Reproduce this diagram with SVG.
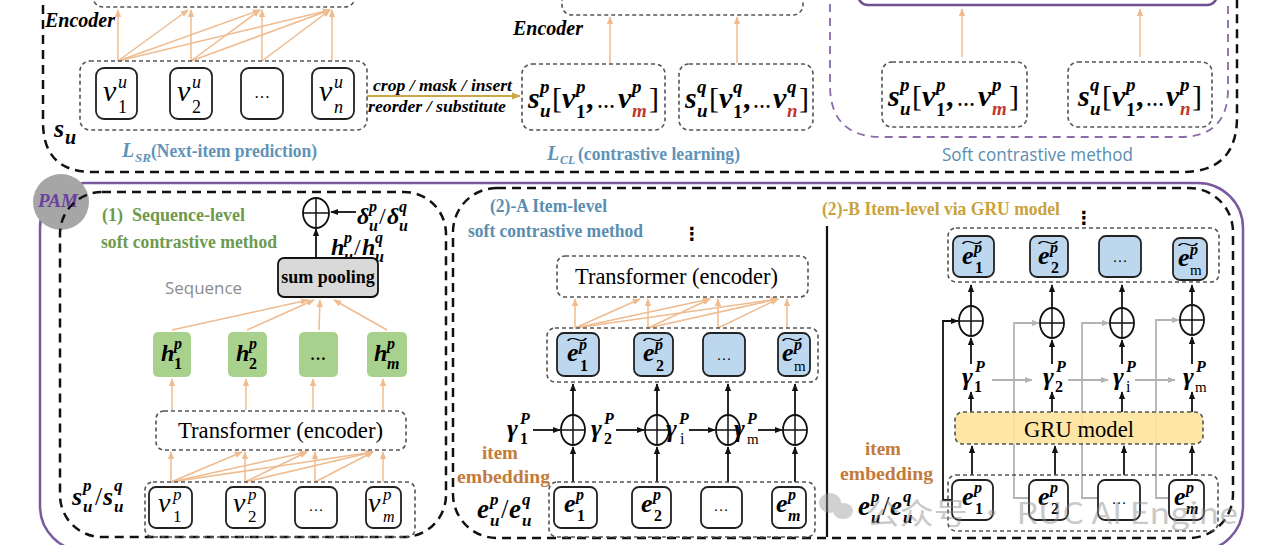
<svg xmlns="http://www.w3.org/2000/svg" width="1280" height="545" viewBox="0 0 1280 545">
<style>
.tan{stroke:#efbb8f;stroke-width:1.5;fill:none;marker-end:url(#at)}
.blk{stroke:#111;stroke-width:1.8;fill:none;marker-end:url(#ak)}
.gra{stroke:#b3b3b3;stroke-width:1.8;fill:none;marker-end:url(#ag)}
.dbox{fill:none;stroke:#555;stroke-width:1.6;stroke-dasharray:4 3}
.item{fill:#fff;stroke:#222;stroke-width:1.8}
.ebl{fill:#bdd7ee;stroke:#222;stroke-width:1.8}
.hg{fill:#a9d18e}
.big{fill:none;stroke:#111;stroke-width:2.5;stroke-dasharray:9 6}
.op{fill:#fff;stroke:#111;stroke-width:1.8}
.opl{stroke:#111;stroke-width:1.5;fill:none}
.mi{font-family:"Liberation Serif","DejaVu Serif",serif;font-style:italic}
.mb{font-family:"Liberation Serif","DejaVu Serif",serif;font-style:italic;font-weight:bold}
.rb{font-family:"Liberation Serif","DejaVu Serif",serif;font-weight:bold}
.rr{font-family:"Liberation Serif","DejaVu Serif",serif}
.up{font-style:normal}
.red{fill:#c0392b}
.blue{fill:#5f93b8}
.sans{font-family:"Open Sans","Liberation Sans",sans-serif}
</style>
<defs>
<marker id="at" viewBox="0 0 10 10" refX="9" refY="5" markerWidth="8" markerHeight="8" orient="auto" markerUnits="userSpaceOnUse"><path d="M0,1 L10,5 L0,9 z" fill="#efbb8f"/></marker>
<marker id="ak" viewBox="0 0 10 10" refX="9" refY="5" markerWidth="8" markerHeight="8" orient="auto" markerUnits="userSpaceOnUse"><path d="M0,1 L10,5 L0,9 z" fill="#111"/></marker>
<marker id="ag" viewBox="0 0 10 10" refX="9" refY="5" markerWidth="8" markerHeight="8" orient="auto" markerUnits="userSpaceOnUse"><path d="M0,1 L10,5 L0,9 z" fill="#b3b3b3"/></marker>
<marker id="ay" viewBox="0 0 10 10" refX="9" refY="5" markerWidth="9" markerHeight="9" orient="auto" markerUnits="userSpaceOnUse"><path d="M0,1 L10,5 L0,9 z" fill="#c9a84a"/></marker>
</defs>
<rect width="1280" height="545" fill="#fff"/>

<g id="frames">
<path class="big" d="M43,-10 V122 Q43,172 93,172 H1182 Q1237,172 1237,117 V-10"/>
<path d="M830,-10 V85 Q830,137 882,137 H1180 Q1228,137 1228,89 V-10" fill="none" stroke="#8a6aa8" stroke-width="1.8" stroke-dasharray="8 6"/>
<rect x="858" y="-40" width="359" height="45" rx="10" fill="none" stroke="#6e4f8f" stroke-width="2.5"/>
<rect x="93" y="-30" width="262" height="37" rx="10" class="dbox"/>
<rect x="562" y="-30" width="241" height="45" rx="10" class="dbox"/>
<rect x="40" y="183" width="1203" height="368" rx="45" fill="none" stroke="#7a5a9e" stroke-width="2.5"/>
<rect x="453" y="188" width="780" height="350" rx="44" class="big"/>
<line x1="827" y1="226" x2="827" y2="537" stroke="#111" stroke-width="2.2"/>
</g>

<g id="connectors">
<line class="tan" x1="118" y1="61" x2="118" y2="10"/>
<line class="tan" x1="191" y1="61" x2="191" y2="10"/>
<line class="tan" x1="262" y1="61" x2="262" y2="10"/>
<line class="tan" x1="332" y1="61" x2="332" y2="10"/>
<line class="tan" x1="118" y1="61" x2="188" y2="10"/>
<line class="tan" x1="118" y1="61" x2="260" y2="10"/>
<line class="tan" x1="118" y1="61" x2="330" y2="10"/>
<line class="tan" x1="191" y1="61" x2="260" y2="10"/>
<line class="tan" x1="191" y1="61" x2="330" y2="10"/>
<line class="tan" x1="262" y1="61" x2="330" y2="10"/>
<line x1="367" y1="96" x2="520" y2="96" stroke="#c9a84a" stroke-width="2.2" marker-end="url(#ay)"/>
<line class="tan" x1="610" y1="63" x2="610" y2="17"/>
<line class="tan" x1="737" y1="63" x2="737" y2="17"/>
<line class="tan" x1="962" y1="57" x2="962" y2="9"/>
<line class="tan" x1="1140" y1="57" x2="1140" y2="9"/>
<line class="tan" x1="171" y1="482" x2="171" y2="452"/>
<line class="tan" x1="245" y1="482" x2="245" y2="452"/>
<line class="tan" x1="315" y1="482" x2="315" y2="452"/>
<line class="tan" x1="383" y1="482" x2="383" y2="452"/>
<line class="tan" x1="171" y1="482" x2="242" y2="452"/>
<line class="tan" x1="171" y1="482" x2="307" y2="452"/>
<line class="tan" x1="171" y1="482" x2="373" y2="452"/>
<line class="tan" x1="245" y1="482" x2="307" y2="452"/>
<line class="tan" x1="245" y1="482" x2="373" y2="452"/>
<line class="tan" x1="315" y1="482" x2="373" y2="452"/>
<line class="tan" x1="172" y1="410" x2="172" y2="379"/>
<line class="tan" x1="246" y1="410" x2="246" y2="379"/>
<line class="tan" x1="313" y1="410" x2="313" y2="379"/>
<line class="tan" x1="383" y1="410" x2="383" y2="379"/>
<line class="tan" x1="172" y1="330" x2="308" y2="300"/>
<line class="tan" x1="247" y1="330" x2="314" y2="300"/>
<line class="tan" x1="319" y1="330" x2="320" y2="300"/>
<line class="tan" x1="387" y1="330" x2="334" y2="300"/>
<line class="blk" x1="316" y1="258" x2="316" y2="229"/>
<line class="blk" x1="356" y1="212" x2="331" y2="212"/>
<line class="tan" x1="575" y1="328" x2="575" y2="299"/>
<line class="tan" x1="648" y1="328" x2="648" y2="299"/>
<line class="tan" x1="718" y1="328" x2="718" y2="299"/>
<line class="tan" x1="787" y1="328" x2="787" y2="299"/>
<line class="tan" x1="575" y1="328" x2="640" y2="299"/>
<line class="tan" x1="575" y1="328" x2="710" y2="299"/>
<line class="tan" x1="575" y1="328" x2="778" y2="299"/>
<line class="tan" x1="648" y1="328" x2="710" y2="299"/>
<line class="tan" x1="648" y1="328" x2="778" y2="299"/>
<line class="tan" x1="718" y1="328" x2="778" y2="299"/>
<line class="blk" x1="573" y1="415" x2="573" y2="384"/>
<line class="blk" x1="657" y1="415" x2="657" y2="384"/>
<line class="blk" x1="728" y1="415" x2="728" y2="384"/>
<line class="blk" x1="795" y1="415" x2="795" y2="384"/>
<line class="blk" x1="573" y1="482" x2="573" y2="447"/>
<line class="blk" x1="657" y1="482" x2="657" y2="447"/>
<line class="blk" x1="728" y1="482" x2="728" y2="447"/>
<line class="blk" x1="795" y1="482" x2="795" y2="447"/>
<line class="blk" x1="533" y1="430" x2="560" y2="430"/>
<line class="blk" x1="616" y1="430" x2="644" y2="430"/>
<line class="blk" x1="689" y1="430" x2="715" y2="430"/>
<line class="blk" x1="758" y1="430" x2="782" y2="430"/>
<polyline class="gra" points="1029,498 1014,498 1014,323 1039,323"/>
<polyline class="gra" points="1098,498 1082,498 1082,323 1109,323"/>
<polyline class="gra" points="1169,498 1156,498 1156,320 1179,320"/>
<line class="gra" x1="992" y1="380" x2="1032" y2="380"/>
<line class="gra" x1="1068" y1="380" x2="1108" y2="380"/>
<line class="gra" x1="1135" y1="380" x2="1175" y2="380"/>
<polyline class="blk" points="952,500 943,500 943,321 958,321"/>
<line class="blk" x1="971" y1="306" x2="971" y2="285"/>
<line class="blk" x1="1052" y1="308" x2="1052" y2="285"/>
<line class="blk" x1="1122" y1="308" x2="1122" y2="285"/>
<line class="blk" x1="1192" y1="305" x2="1192" y2="285"/>
<line class="blk" x1="971" y1="364" x2="971" y2="338"/>
<line class="blk" x1="1052" y1="364" x2="1052" y2="340"/>
<line class="blk" x1="1122" y1="364" x2="1122" y2="340"/>
<line class="blk" x1="1192" y1="364" x2="1192" y2="337"/>
<line class="blk" x1="971" y1="412" x2="971" y2="392"/>
<line class="blk" x1="1052" y1="412" x2="1052" y2="392"/>
<line class="blk" x1="1122" y1="412" x2="1122" y2="392"/>
<line class="blk" x1="1192" y1="412" x2="1192" y2="392"/>
<line class="blk" x1="972" y1="475" x2="972" y2="446"/>
<line class="blk" x1="1055" y1="475" x2="1055" y2="446"/>
<line class="blk" x1="1124" y1="475" x2="1124" y2="446"/>
<line class="blk" x1="1192" y1="475" x2="1192" y2="446"/>
</g>

<text class="mb" x="45" y="27" font-size="20">Encoder</text>
<text class="mb" x="513" y="35" font-size="20">Encoder</text>
<g id="su-label"><text class="mb" font-size="26"><tspan x="54" y="137">s</tspan><tspan x="65" y="144" font-size="20">u</tspan></text></g>

<g id="seq-u">
<rect x="80" y="61" width="287" height="69" rx="10" class="dbox"/>
<rect x="96" y="68" width="41" height="51" rx="8" class="item"/>
<rect x="170" y="68" width="42" height="51" rx="8" class="item"/>
<rect x="241" y="68" width="42" height="51" rx="8" class="item"/>
<rect x="312" y="68" width="42" height="51" rx="8" class="item"/>
<text class="mi" font-size="30"><tspan x="103" y="101">v</tspan><tspan x="118" y="88" font-size="18">u</tspan><tspan x="118" y="113" font-size="18" class="up">1</tspan></text>
<text class="mi" font-size="30"><tspan x="177" y="101">v</tspan><tspan x="192" y="88" font-size="18">u</tspan><tspan x="192" y="113" font-size="18" class="up">2</tspan></text>
<text class="rr" x="262" y="98" font-size="16" text-anchor="middle">…</text>
<text class="mi" font-size="30"><tspan x="319" y="101">v</tspan><tspan x="334" y="88" font-size="18">u</tspan><tspan x="334" y="113" font-size="18">n</tspan></text>
</g>
<text class="mb" x="373" y="91" font-size="17" textLength="139" lengthAdjust="spacingAndGlyphs">crop / mask / insert</text>
<text class="mb" x="368" y="112" font-size="17" textLength="138" lengthAdjust="spacingAndGlyphs">reorder / substitute</text>
<g id="lsr">
<text class="mb blue" x="122" y="157" font-size="20">L</text>
<text class="mb blue" x="135" y="162" font-size="13">SR</text>
<text class="rb blue" x="151" y="157" font-size="19" textLength="166" lengthAdjust="spacingAndGlyphs">(Next-item prediction)</text>
</g>

<g id="seq-p-cl">
<rect x="522" y="64" width="143" height="66" rx="10" class="dbox"/>
<text class="mb" font-size="30"><tspan x="528" y="108">s</tspan><tspan x="540" y="93" font-size="19">p</tspan><tspan x="540" y="117" font-size="19">u</tspan><tspan x="552" y="108" font-weight="normal" class="up">[</tspan><tspan x="562" y="108">v</tspan><tspan x="576" y="93" font-size="19">p</tspan><tspan x="576" y="118" font-size="19" class="up">1</tspan><tspan x="586" y="108" class="up">,</tspan><tspan x="597" y="108" font-size="18" class="up">…</tspan><tspan x="618" y="108">v</tspan><tspan x="632" y="93" font-size="19">p</tspan><tspan x="632" y="117" font-size="19" class="red">m</tspan><tspan x="649" y="108" font-weight="normal" class="up">]</tspan></text>
</g>
<g id="seq-q-cl">
<rect x="679" y="64" width="134" height="66" rx="10" class="dbox"/>
<text class="mb" font-size="30"><tspan x="685" y="108">s</tspan><tspan x="697" y="93" font-size="19">q</tspan><tspan x="697" y="117" font-size="19">u</tspan><tspan x="709" y="108" font-weight="normal" class="up">[</tspan><tspan x="719" y="108">v</tspan><tspan x="733" y="93" font-size="19">q</tspan><tspan x="733" y="118" font-size="19" class="up">1</tspan><tspan x="743" y="108" class="up">,</tspan><tspan x="753" y="108" font-size="18" class="up">…</tspan><tspan x="773" y="108">v</tspan><tspan x="787" y="93" font-size="19">q</tspan><tspan x="787" y="117" font-size="19" class="red">n</tspan><tspan x="799" y="108" font-weight="normal" class="up">]</tspan></text>
</g>
<g id="lcl">
<text class="mb blue" x="547" y="160" font-size="20">L</text>
<text class="mb blue" x="560" y="164" font-size="12">CL</text>
<text class="rb blue" x="578" y="160" font-size="19" textLength="162" lengthAdjust="spacingAndGlyphs">(contrastive learning)</text>
</g>

<g id="seq-p-soft">
<rect x="882" y="62" width="145" height="65" rx="10" class="dbox"/>
<text class="mb" font-size="30"><tspan x="888" y="106">s</tspan><tspan x="900" y="91" font-size="19">p</tspan><tspan x="900" y="115" font-size="19">u</tspan><tspan x="912" y="106" font-weight="normal" class="up">[</tspan><tspan x="922" y="106">v</tspan><tspan x="936" y="91" font-size="19">p</tspan><tspan x="936" y="116" font-size="19" class="up">1</tspan><tspan x="946" y="106" class="up">,</tspan><tspan x="957" y="106" font-size="18" class="up">…</tspan><tspan x="978" y="106">v</tspan><tspan x="992" y="91" font-size="19">p</tspan><tspan x="992" y="115" font-size="19" class="red">m</tspan><tspan x="1009" y="106" font-weight="normal" class="up">]</tspan></text>
</g>
<g id="seq-q-soft">
<rect x="1068" y="62" width="144" height="65" rx="10" class="dbox"/>
<text class="mb" font-size="30"><tspan x="1078" y="106">s</tspan><tspan x="1090" y="91" font-size="19">q</tspan><tspan x="1090" y="115" font-size="19">u</tspan><tspan x="1102" y="106" font-weight="normal" class="up">[</tspan><tspan x="1112" y="106">v</tspan><tspan x="1126" y="91" font-size="19">p</tspan><tspan x="1126" y="116" font-size="19" class="up">1</tspan><tspan x="1136" y="106" class="up">,</tspan><tspan x="1146" y="106" font-size="18" class="up">…</tspan><tspan x="1166" y="106">v</tspan><tspan x="1180" y="91" font-size="19">p</tspan><tspan x="1180" y="115" font-size="19" class="red">n</tspan><tspan x="1192" y="106" font-weight="normal" class="up">]</tspan></text>
</g>
<text class="sans" x="942" y="161" font-size="18" fill="#5b8db0" textLength="191" lengthAdjust="spacingAndGlyphs">Soft contrastive method</text>

<g id="pam">
<circle cx="61" cy="202" r="28" fill="#a6a6a6"/>
<text class="mb" x="58" y="207" font-size="19" fill="#6b3fa0" text-anchor="middle">PAM</text>
</g>
<rect x="60" y="192" width="386" height="345" rx="42" class="big"/>

<text class="rb" x="102" y="221" font-size="18" fill="#6e9a4e" style="white-space:pre">(1)  Sequence-level</text>
<text class="rb" x="101" y="248" font-size="18" fill="#6e9a4e" textLength="176" lengthAdjust="spacingAndGlyphs">soft contrastive method</text>
<g id="op-seq">
<ellipse cx="316" cy="213" rx="13" ry="15" class="op"/>
<path class="opl" d="M303,213 H329 M316,198 V228"/>
</g>
<text class="mb" font-size="24"><tspan x="357" y="224">δ</tspan><tspan x="369" y="212" font-size="16">p</tspan><tspan x="369" y="231" font-size="16">u</tspan><tspan x="379" y="224" class="up" font-weight="normal">/</tspan><tspan x="387" y="224">δ</tspan><tspan x="399" y="212" font-size="16">q</tspan><tspan x="399" y="231" font-size="16">u</tspan></text>
<text class="mb" font-size="24"><tspan x="331" y="255">h</tspan><tspan x="344" y="243" font-size="16">p</tspan><tspan x="344" y="262" font-size="16">u</tspan><tspan x="354" y="255" class="up" font-weight="normal">/</tspan><tspan x="362" y="255">h</tspan><tspan x="375" y="243" font-size="16">q</tspan><tspan x="375" y="262" font-size="16">u</tspan></text>
<g id="sumpool">
<rect x="278" y="258" width="100" height="39" rx="6" fill="#d9d9d9" stroke="#111" stroke-width="1.8"/>
<text class="rb" x="328" y="283" font-size="18" text-anchor="middle">sum pooling</text>
</g>
<text class="sans" x="165" y="294" font-size="17" fill="#8c8c8c" textLength="77" lengthAdjust="spacingAndGlyphs">Sequence</text>
<g id="h-row">
<rect x="153" y="332" width="38" height="45" rx="5" class="hg"/>
<rect x="228" y="332" width="39" height="45" rx="5" class="hg"/>
<rect x="299" y="332" width="39" height="45" rx="5" class="hg"/>
<rect x="367" y="332" width="40" height="45" rx="5" class="hg"/>
<text class="mb" font-size="24"><tspan x="161" y="361">h</tspan><tspan x="174" y="349" font-size="16">p</tspan><tspan x="174" y="369" font-size="16" class="up">1</tspan></text>
<text class="mb" font-size="24"><tspan x="236" y="361">h</tspan><tspan x="249" y="349" font-size="16">p</tspan><tspan x="249" y="369" font-size="16" class="up">2</tspan></text>
<text class="rb" x="318" y="360" font-size="16" text-anchor="middle">…</text>
<text class="mb" font-size="24"><tspan x="374" y="361">h</tspan><tspan x="387" y="349" font-size="16">p</tspan><tspan x="387" y="369" font-size="16">m</tspan></text>
</g>
<g id="trans1">
<rect x="156" y="411" width="250" height="39" rx="8" class="dbox"/>
<text class="rr" x="178" y="438" font-size="22.5" textLength="205" lengthAdjust="spacingAndGlyphs">Transformer (encoder)</text>
</g>
<g id="v-row">
<rect x="145" y="482" width="270" height="55" rx="8" class="dbox"/>
<rect x="149" y="487" width="43" height="41" rx="7" class="item"/>
<rect x="226" y="487" width="39" height="41" rx="7" class="item"/>
<rect x="295" y="487" width="42" height="41" rx="7" class="item"/>
<rect x="366" y="487" width="35" height="41" rx="7" class="item"/>
<text class="mi" font-size="28"><tspan x="158" y="512">v</tspan><tspan x="173" y="500" font-size="17">p</tspan><tspan x="173" y="522" font-size="17" class="up">1</tspan></text>
<text class="mi" font-size="28"><tspan x="233" y="512">v</tspan><tspan x="248" y="500" font-size="17">p</tspan><tspan x="248" y="522" font-size="17" class="up">2</tspan></text>
<text class="rr" x="316" y="511" font-size="15" text-anchor="middle">…</text>
<text class="mi" font-size="28"><tspan x="368" y="512">v</tspan><tspan x="383" y="500" font-size="17">p</tspan><tspan x="383" y="522" font-size="16">m</tspan></text>
</g>
<text class="mb" font-size="26"><tspan x="72" y="505">s</tspan><tspan x="83" y="491" font-size="17">p</tspan><tspan x="83" y="512" font-size="17">u</tspan><tspan x="95" y="505" class="up" font-weight="normal">/</tspan><tspan x="103" y="505">s</tspan><tspan x="114" y="491" font-size="17">q</tspan><tspan x="114" y="512" font-size="17">u</tspan></text>

<text class="rb" x="490" y="212" font-size="18" fill="#5b8db0" textLength="117" lengthAdjust="spacingAndGlyphs">(2)-A Item-level</text>
<text class="rb" x="468" y="237" font-size="18" fill="#5b8db0" textLength="175" lengthAdjust="spacingAndGlyphs">soft contrastive method</text>
<text x="692" y="240" font-family="DejaVu Sans" font-weight="bold" font-size="18" text-anchor="middle">⋮</text>
<g id="trans2">
<rect x="557" y="256" width="251" height="41" rx="8" class="dbox"/>
<text class="rr" x="575" y="284" font-size="22.5" textLength="203" lengthAdjust="spacingAndGlyphs">Transformer (encoder)</text>
</g>
<g id="et-row-a">
<rect x="547" y="328" width="271" height="54" rx="8" class="dbox"/>
<rect x="557" y="333" width="42" height="43" rx="7" class="ebl"/>
<rect x="634" y="333" width="39" height="43" rx="7" class="ebl"/>
<rect x="703" y="333" width="42" height="43" rx="7" class="ebl"/>
<rect x="778" y="333" width="32" height="43" rx="7" class="ebl"/>
<text class="mb" font-size="26"><tspan x="567" y="361">e</tspan><tspan x="579" y="350" font-size="16">p</tspan><tspan x="580" y="371" font-size="16" class="up">1</tspan></text>
<text class="rr" x="566" y="346" font-size="18" textLength="22" lengthAdjust="spacingAndGlyphs">~</text>
<text class="mb" font-size="26"><tspan x="643" y="361">e</tspan><tspan x="655" y="350" font-size="16">p</tspan><tspan x="656" y="371" font-size="16" class="up">2</tspan></text>
<text class="rr" x="642" y="346" font-size="18" textLength="22" lengthAdjust="spacingAndGlyphs">~</text>
<text class="rr" x="724" y="360" font-size="15" text-anchor="middle">…</text>
<text class="mb" font-size="26"><tspan x="782" y="361">e</tspan><tspan x="794" y="350" font-size="16">p</tspan><tspan x="794" y="371" font-size="15" class="up" font-weight="normal">m</tspan></text>
<text class="rr" x="781" y="346" font-size="18" textLength="22" lengthAdjust="spacingAndGlyphs">~</text>
</g>
<g id="ops-a">
<ellipse cx="573" cy="430" rx="12" ry="15" class="op"/><path class="opl" d="M561,430 H585 M573,415 V445"/>
<ellipse cx="657" cy="430" rx="12" ry="15" class="op"/><path class="opl" d="M645,430 H669 M657,415 V445"/>
<ellipse cx="728" cy="430" rx="12" ry="15" class="op"/><path class="opl" d="M716,430 H740 M728,415 V445"/>
<ellipse cx="795" cy="430" rx="12" ry="15" class="op"/><path class="opl" d="M783,430 H807 M795,415 V445"/>
</g>
<g id="gammas-a">
<text class="mb" font-size="26"><tspan x="507" y="437">γ</tspan><tspan x="520" y="424" font-size="16">P</tspan><tspan x="520" y="444" font-size="16" class="up">1</tspan></text>
<text class="mb" font-size="26"><tspan x="591" y="437">γ</tspan><tspan x="604" y="424" font-size="16">P</tspan><tspan x="604" y="444" font-size="16" class="up">2</tspan></text>
<text class="mb" font-size="26"><tspan x="666" y="437">γ</tspan><tspan x="679" y="424" font-size="16">P</tspan><tspan x="680" y="444" font-size="16" class="up" font-weight="normal">i</tspan></text>
<text class="mb" font-size="26"><tspan x="734" y="437">γ</tspan><tspan x="747" y="424" font-size="16">P</tspan><tspan x="747" y="444" font-size="15" class="up" font-weight="normal">m</tspan></text>
</g>
<text class="rb" x="500" y="459" font-size="19" fill="#c47a3a" text-anchor="middle">item</text>
<text class="rb" x="457" y="483" font-size="19" fill="#c47a3a" textLength="93" lengthAdjust="spacingAndGlyphs">embedding</text>
<text class="mb" font-size="27"><tspan x="477" y="518">e</tspan><tspan x="490" y="505" font-size="17">p</tspan><tspan x="490" y="526" font-size="17">u</tspan><tspan x="501" y="518" class="up" font-weight="normal">/</tspan><tspan x="509" y="518">e</tspan><tspan x="522" y="505" font-size="17">q</tspan><tspan x="522" y="526" font-size="17">u</tspan></text>
<g id="e-row-a">
<rect x="549" y="482" width="266" height="55" rx="8" class="dbox"/>
<rect x="554" y="487" width="43" height="41" rx="7" class="item"/>
<rect x="632" y="487" width="39" height="41" rx="7" class="item"/>
<rect x="701" y="487" width="41" height="41" rx="7" class="item"/>
<rect x="772" y="487" width="34" height="41" rx="7" class="item"/>
<text class="mb" font-size="26"><tspan x="564" y="512">e</tspan><tspan x="576" y="500" font-size="16">p</tspan><tspan x="577" y="521" font-size="16" class="up">1</tspan></text>
<text class="mb" font-size="26"><tspan x="641" y="512">e</tspan><tspan x="653" y="500" font-size="16">p</tspan><tspan x="654" y="521" font-size="16" class="up">2</tspan></text>
<text class="rr" x="721" y="511" font-size="15" text-anchor="middle">…</text>
<text class="mb" font-size="26"><tspan x="776" y="512">e</tspan><tspan x="788" y="500" font-size="16">p</tspan><tspan x="788" y="521" font-size="16">m</tspan></text>
</g>

<text class="rb" x="822" y="215" font-size="19" fill="#c9a23c" textLength="238" lengthAdjust="spacingAndGlyphs">(2)-B Item-level via GRU model</text>
<text x="1084" y="224" font-family="DejaVu Sans" font-weight="bold" font-size="18" text-anchor="middle">⋮</text>
<g id="et-row-b">
<rect x="948" y="228" width="271" height="54" rx="8" class="dbox"/>
<rect x="953" y="236" width="41" height="41" rx="7" class="ebl"/>
<rect x="1030" y="236" width="38" height="41" rx="7" class="ebl"/>
<rect x="1099" y="236" width="42" height="41" rx="7" class="ebl"/>
<rect x="1173" y="238" width="34" height="42" rx="7" class="ebl"/>
<text class="mb" font-size="26"><tspan x="962" y="264">e</tspan><tspan x="974" y="253" font-size="16">p</tspan><tspan x="975" y="273" font-size="16" class="up">1</tspan></text>
<text class="rr" x="961" y="249" font-size="18" textLength="22" lengthAdjust="spacingAndGlyphs">~</text>
<text class="mb" font-size="26"><tspan x="1038" y="264">e</tspan><tspan x="1050" y="253" font-size="16">p</tspan><tspan x="1051" y="273" font-size="16" class="up">2</tspan></text>
<text class="rr" x="1037" y="249" font-size="18" textLength="22" lengthAdjust="spacingAndGlyphs">~</text>
<text class="rr" x="1120" y="262" font-size="15" text-anchor="middle">…</text>
<text class="mb" font-size="26"><tspan x="1178" y="266">e</tspan><tspan x="1190" y="255" font-size="16">p</tspan><tspan x="1190" y="275" font-size="15" class="up" font-weight="normal">m</tspan></text>
<text class="rr" x="1177" y="251" font-size="18" textLength="22" lengthAdjust="spacingAndGlyphs">~</text>
</g>
<g id="ops-b">
<ellipse cx="971" cy="321" rx="12" ry="15" class="op"/><path class="opl" d="M959,321 H983 M971,306 V336"/>
<ellipse cx="1052" cy="323" rx="12" ry="15" class="op"/><path class="opl" d="M1040,323 H1064 M1052,308 V338"/>
<ellipse cx="1122" cy="323" rx="12" ry="15" class="op"/><path class="opl" d="M1110,323 H1134 M1122,308 V338"/>
<ellipse cx="1192" cy="320" rx="12" ry="15" class="op"/><path class="opl" d="M1180,320 H1204 M1192,305 V335"/>
</g>
<g id="gammas-b">
<text class="mb" font-size="26"><tspan x="962" y="385">γ</tspan><tspan x="975" y="372" font-size="16">P</tspan><tspan x="974" y="392" font-size="16" class="up">1</tspan></text>
<text class="mb" font-size="26"><tspan x="1043" y="385">γ</tspan><tspan x="1056" y="372" font-size="16">P</tspan><tspan x="1055" y="392" font-size="16" class="up">2</tspan></text>
<text class="mb" font-size="26"><tspan x="1113" y="385">γ</tspan><tspan x="1126" y="372" font-size="16">P</tspan><tspan x="1126" y="392" font-size="16" class="up" font-weight="normal">i</tspan></text>
<text class="mb" font-size="26"><tspan x="1183" y="385">γ</tspan><tspan x="1196" y="372" font-size="16">P</tspan><tspan x="1195" y="392" font-size="15" class="up" font-weight="normal">m</tspan></text>
</g>
<g id="gru">
<rect x="955" y="412" width="248" height="32" rx="8" fill="#fde39c" fill-opacity="0.9" stroke="#555" stroke-width="1.6" stroke-dasharray="4 3"/>
<text class="rr" x="1024" y="437" font-size="23" textLength="110" lengthAdjust="spacingAndGlyphs">GRU model</text>
</g>
<text class="rb" x="883" y="455" font-size="19" fill="#c47a3a" text-anchor="middle">item</text>
<text class="rb" x="840" y="480" font-size="19" fill="#c47a3a" textLength="93" lengthAdjust="spacingAndGlyphs">embedding</text>
<text class="mb" font-size="27"><tspan x="858" y="515">e</tspan><tspan x="871" y="502" font-size="17">p</tspan><tspan x="871" y="523" font-size="17">u</tspan><tspan x="882" y="515" class="up" font-weight="normal">/</tspan><tspan x="890" y="515">e</tspan><tspan x="903" y="502" font-size="17">q</tspan><tspan x="903" y="523" font-size="17">u</tspan></text>
<g id="e-row-b">
<rect x="948" y="475" width="270" height="56" rx="8" class="dbox"/>
<rect x="952" y="480" width="41" height="40" rx="7" class="item"/>
<rect x="1029" y="480" width="39" height="40" rx="7" class="item"/>
<rect x="1098" y="480" width="42" height="40" rx="7" class="item"/>
<rect x="1169" y="480" width="35" height="40" rx="7" class="item"/>
<text class="mb" font-size="26"><tspan x="962" y="505">e</tspan><tspan x="974" y="493" font-size="16">p</tspan><tspan x="975" y="514" font-size="16" class="up">1</tspan></text>
<text class="mb" font-size="26"><tspan x="1038" y="505">e</tspan><tspan x="1050" y="493" font-size="16">p</tspan><tspan x="1051" y="514" font-size="16" class="up">2</tspan></text>
<text class="rr" x="1119" y="504" font-size="15" text-anchor="middle">…</text>
<text class="mb" font-size="26"><tspan x="1174" y="505">e</tspan><tspan x="1186" y="493" font-size="16">p</tspan><tspan x="1186" y="514" font-size="16">m</tspan></text>
</g>

<g id="watermark" opacity="0.45">
<ellipse cx="830" cy="503" rx="11" ry="10" fill="#9a9a9a"/>
<ellipse cx="843" cy="511" rx="10" ry="8" fill="#9a9a9a"/>
<text x="866" y="524" font-family="'Noto Sans CJK SC','Open Sans',sans-serif" font-size="30" fill="#8a8a8a" textLength="372" lengthAdjust="spacingAndGlyphs">公众号 · RUC AI Engine</text>
</g>
</svg>
